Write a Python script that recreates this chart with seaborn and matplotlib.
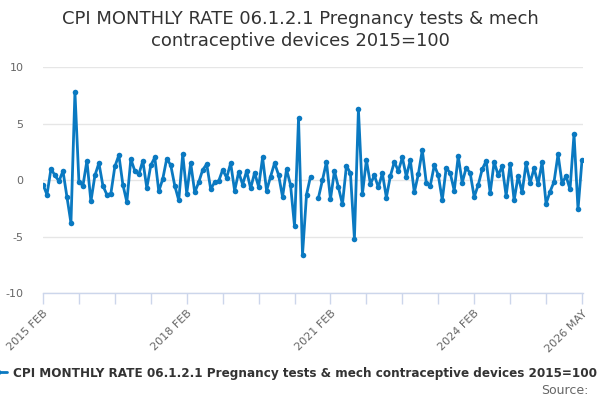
import numpy as np
import pandas as pd
import matplotlib
matplotlib.use("Agg")
import matplotlib.pyplot as plt
import seaborn as sns

start_month = "2015-02-01"
values = [
    -0.4, -1.3, 1.0, 0.4, -0.1, 0.8, -1.5, -3.8, 7.8, -0.2,
    -0.5, 1.7, -1.9, 0.4, 1.5, -0.5, -1.3, -1.2, 1.2, 2.2,
    -0.4, -1.95, 1.85, 0.8, 0.5, 1.7, -0.7, 1.3, 2.0, -1.0,
    0.1, 1.9, 1.3, -0.5, -1.8, 2.3, -1.2, 1.5, -1.1, -0.2,
    0.9, 1.4, -0.8, -0.2, -0.1, 0.9, 0.2, 1.5, -0.95, 0.7,
    -0.4, 0.8, -0.75, 0.65, -0.6, 2.0, -0.95, 0.3, 1.5, 0.45,
    -1.5, 0.95, -0.45, -4.1, 5.45, -6.6, -1.3, 0.3, np.nan, -1.55,
    0.0, 1.6, -1.7, 0.8, -0.65, -2.15, 1.27, 0.6, -5.2, 6.25,
    -1.24, 1.77, -0.35, 0.4, -0.65, 0.6, -1.55, 0.35, 1.6, 0.8,
    2.0, 0.3, 1.77, -1.1, 0.5, 2.65, -0.24, -0.5, 1.3, 0.44,
    -1.77, 1.1, 0.6, -0.94, 2.1, -0.24, 1.1, 0.6, -1.5, -0.44,
    0.94, 1.7, -1.15, 1.6, 0.44, 1.2, -1.4, 1.4, -1.8, 0.35,
    -1.1, 1.47, -0.24, 1.03, -0.35, 1.56, -2.1, -1.03, -0.15, 2.27,
    -0.3, 0.35, -0.83, 4.07, -2.6, 1.77,
]
yticks = [-10, -5, 0, 5, 10]
labelled_ticks = {0: "2015 FEB", 36: "2018 FEB", 72: "2021 FEB", 108: "2024 FEB", 135: "2026 MAY"}
title = "CPI MONTHLY RATE 06.1.2.1 Pregnancy tests & mech\ncontraceptive devices 2015=100"
series_name = "CPI MONTHLY RATE 06.1.2.1 Pregnancy tests & mech contraceptive devices 2015=100"

df = pd.DataFrame({"month": np.arange(len(values)), "value": values})
# segment id so the missing month leaves a gap
df["segment"] = df["value"].isna().cumsum()
df = df.dropna()

sns.set_theme(style="white")
plt.rcParams["font.family"] = ["DejaVu Sans"]

fig = plt.figure(figsize=(6, 4), dpi=100)
ax = fig.add_axes([43 / 600, 1 - 293 / 400, 540 / 600, 226 / 400])

color = "#0a79c1"
sns.lineplot(data=df, x="month", y="value", units="segment", estimator=None,
             color=color, linewidth=2, marker="o", markersize=4,
             markeredgewidth=0, ax=ax)

ax.set_ylim(-10, 10)
ax.set_xlim(0, len(values) - 1 + 0.25)
ax.set_yticks(yticks)
ax.set_yticklabels([str(t) for t in yticks])
ax.yaxis.grid(True, color="#e6e6e6", linewidth=1)
ax.set_axisbelow(True)

ticks = list(range(0, len(values), 9))
ax.set_xticks(ticks)
ax.set_xticklabels([labelled_ticks.get(t, "") for t in ticks], rotation=45,
                   ha="right", rotation_mode="anchor")
ax.tick_params(axis="x", length=8, width=1, color="#ccd6eb", labelsize=8,
               labelcolor="#666666", pad=3, direction="out", bottom=True)
ax.tick_params(axis="y", length=0, labelsize=8, labelcolor="#666666", pad=14)

for side in ["top", "right", "left"]:
    ax.spines[side].set_visible(False)
ax.spines["bottom"].set_color("#ccd6eb")
ax.spines["bottom"].set_linewidth(1)
ax.set_xlabel("")
ax.set_ylabel("")

fig.suptitle(title, x=0.5, y=1 - 10 / 400, fontsize=13, color="#333333", linespacing=1.3)

handle = ax.lines[0]
leg = fig.legend([handle], [series_name], loc="center left",
                 bbox_to_anchor=(-12 / 600, 1 - 373 / 400), frameon=False,
                 prop={"weight": "bold", "size": 8.65}, handlelength=1.6,
                 handletextpad=0.5, borderpad=0, borderaxespad=0)
for t in leg.get_texts():
    t.set_color("#333333")

fig.text(588 / 600, 1 - 390 / 400, "Source:", ha="right", va="center",
         fontsize=9, color="#666666")

fig.savefig("out.png", dpi=100)
